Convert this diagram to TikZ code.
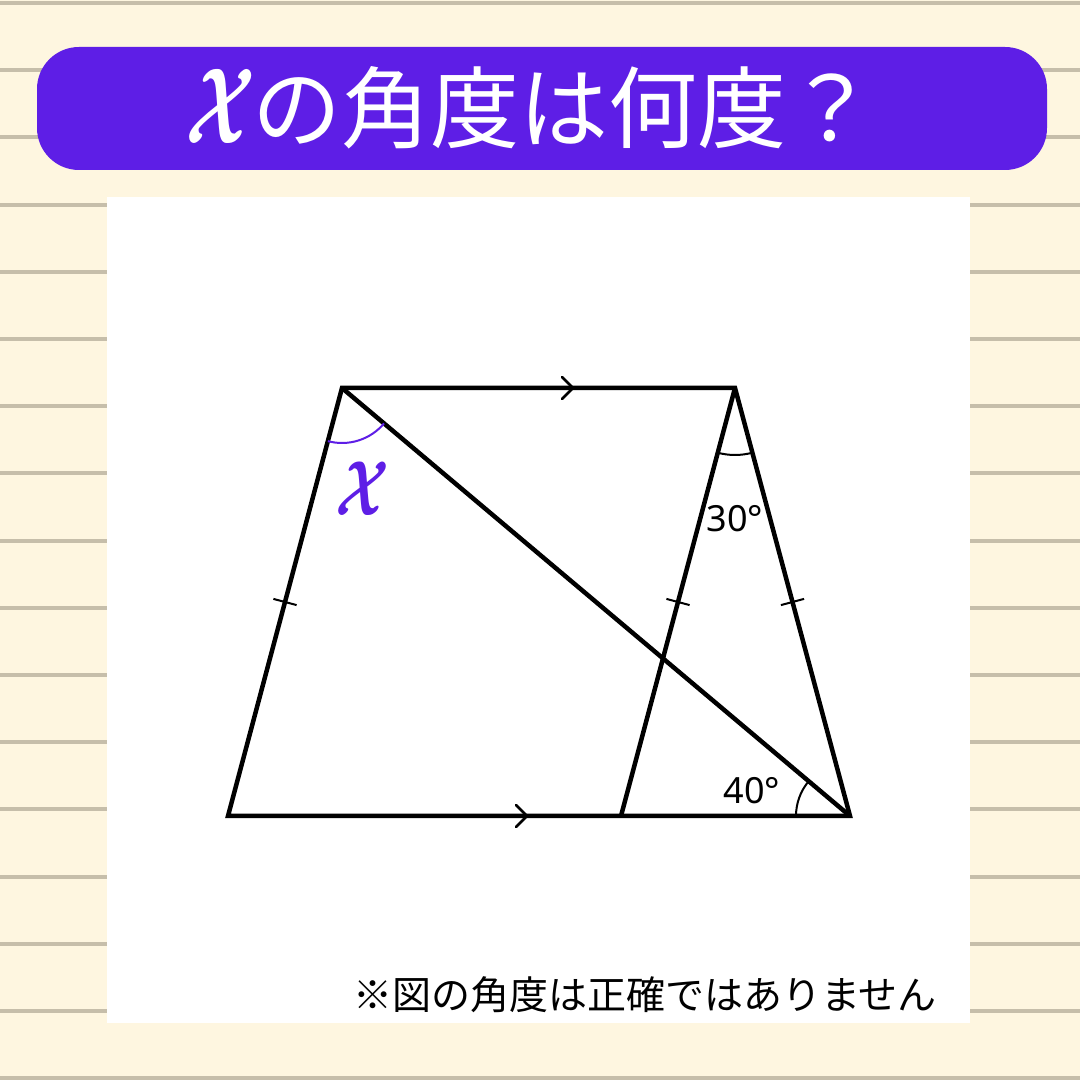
\documentclass[tikz,border=0pt]{standalone}
\usepackage{fontspec}
\usepackage{graphicx}
\usetikzlibrary{calc}
\newfontfamily\jp{Noto Sans CJK JP}
\newfontfamily\ns{Noto Sans}
\definecolor{bgcream}{RGB}{254,246,224}
\definecolor{ruleline}{RGB}{198,190,170}
\definecolor{purp}{RGB}{94,30,230}
\tikzset{
  ruling/.style={draw=ruleline, line width=4pt},
  edge/.style={draw=black, line width=4.5pt, line join=miter},
  tickm/.style={draw=black, line width=2pt},
  chev/.style={draw=black, line width=2.5pt, line cap=round, line join=miter},
  angarc/.style={draw=black, line width=2pt},
  xarc/.style={draw=purp, line width=2pt},
  deglabel/.style={font=\ns\fontsize{36}{36}\selectfont, inner sep=0pt},
}
\begin{document}
\begin{tikzpicture}[x=1pt,y=1pt]
\useasboundingbox (0,0) rectangle (1080,1080);
\fill[bgcream] (0,0) rectangle (1080,1080);
\foreach \i in {0,...,16} \draw[ruling] (0,1077-67.2*\i) -- (1080,1077-67.2*\i);
% white panel
\fill[white] (107,57) rectangle (970,883);
% title bar
\fill[purp, rounded corners=42pt] (37,910) rectangle (1047,1033);
\node[text=white, inner sep=0pt, anchor=west] (title) at (185,972)
  {\raisebox{-2pt}{\scalebox{7.3}[10.8]{\boldmath$\mathcal{X}$}}\hspace{-3pt}{\jp\fontsize{89}{89}\selectfont の角度は何度？}};
% figure vertices
\coordinate (A) at (342,692);
\coordinate (B) at (735,692);
\coordinate (C) at (850,264);
\coordinate (D) at (228,264);
\coordinate (E) at (621,264);
\draw[edge] (A) -- (B) -- (C) -- (D) -- cycle;
\draw[edge] (A) -- (C);
\draw[edge] (E) -- (B);
% tick marks
\foreach \p/\q in {A/D, E/B, B/C}{
  \path (\p) -- (\q) coordinate[pos=0.5] (m\p\q);
  \draw[tickm] ($(m\p\q)!12pt!90:(\q)$) -- ($(m\p\q)!12pt!-90:(\q)$);
}
% parallel chevrons
\coordinate (t1) at (573,692);
\coordinate (t2) at (527,264);
\draw[chev] ([shift={(-11,11)}]t1) -- (t1) -- ([shift={(-11,-11)}]t1);
\draw[chev] ([shift={(-11,11)}]t2) -- (t2) -- ([shift={(-11,-11)}]t2);
% angle arcs
\draw[xarc] ($(A)+(255.1:55)$) arc (255.1:319.9:55);
\draw[angarc] ($(B)+(255.1:67)$) arc (255.1:285.0:67);
\draw[angarc] ($(C)+(139.9:54)$) arc (139.9:180:54);
% labels
\node[text=purp, inner sep=0pt] (xlab) at (362,591) {\scalebox{5.6}[7.8]{\boldmath$\mathcal{X}$}};
\node[deglabel] (l30) at (735,561) {30°};
\node[deglabel] (l40) at (752,289) {40°};
\node[inner sep=0pt, font=\jp\fontsize{39}{39}\selectfont] (note) at (645,85) {※図の角度は正確ではありません};
\end{tikzpicture}
\end{document}
